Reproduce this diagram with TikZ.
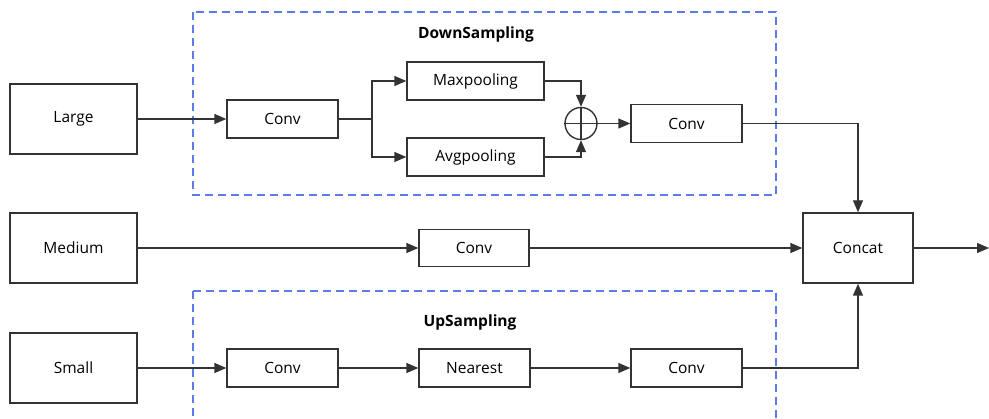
\documentclass[tikz,border=0pt]{standalone}
\usepackage{fontspec}
\setmainfont{Open Sans}
\usetikzlibrary{arrows.meta}
\definecolor{edge}{HTML}{333333}
\definecolor{groupblue}{HTML}{5B7BE8}
\tikzset{
  block/.style={draw=edge, line width=1.4pt, fill=white, minimum width=#1, inner sep=0pt, font=\fontsize{15.5}{18}\selectfont},
  block/.default=110pt,
  wire/.style={draw=edge, line width=1.4pt},
  flow/.style={wire, -{Triangle[length=12pt,width=10pt]}},
  group/.style={draw=groupblue, line width=1.3pt, dash pattern=on 8pt off 5pt},
  grouptitle/.style={font=\fontsize{15.5}{18}\selectfont\bfseries},
}
\begin{document}
\begin{tikzpicture}[x=1pt,y=-1pt]
\useasboundingbox (0,0) rectangle (989,419);

% dashed group frames
\draw[group] (193,12) rectangle (776,195);
\draw[group] (193,291) -- (776,291) -- (776,440);
\draw[group] (193,291) -- (193,440);
\node[grouptitle] (downtitle) at (476,34) {DownSampling};
\node[grouptitle] (uptitle) at (470,322) {UpSampling};

% inputs
\node[block=127pt, minimum height=70pt] (large) at (73.5,119) {Large};
\node[block=127pt, minimum height=70pt] (medium) at (73.5,248) {Medium};
\node[block=127pt, minimum height=70pt] (small) at (73.5,368) {Small};

% down-sampling branch
\node[block=111pt, minimum height=38pt] (dconv) at (282.5,119) {Conv};
\node[block=137pt, minimum height=38pt] (maxp) at (475.5,81) {Maxpooling};
\node[block=137pt, minimum height=38pt] (avgp) at (475.5,157) {Avgpooling};
\node[draw=edge, line width=1.4pt, circle, minimum size=32pt, inner sep=0pt] (sum) at (581,123.5) {};
\draw[wire] (sum.north) -- (sum.south) (sum.west) -- (sum.east);
\node[block=111pt, minimum height=38pt] (dconv2) at (686.5,123.5) {Conv};

% middle branch
\node[block=110pt, minimum height=37pt] (mconv) at (474,248) {Conv};

% up-sampling branch
\node[block=111pt, minimum height=38pt] (uconv) at (282.5,368) {Conv};
\node[block=111pt, minimum height=38pt] (near) at (474.5,368) {Nearest};
\node[block=111pt, minimum height=38pt] (uconv2) at (686.5,368) {Conv};

% fusion
\node[block=110pt, minimum height=70pt] (concat) at (858,248) {Concat};
\coordinate (out) at (989,248);
\coordinate (split) at (372,119);

% connectors
\draw[flow] (large) -- (dconv);
\draw[wire] (dconv.east) -- (split);
\draw[flow] (split) |- (maxp.west);
\draw[flow] (split) |- (avgp.west);
\draw[flow] (maxp.east) -| (sum.north);
\draw[flow] (avgp.east) -| (sum.south);
\draw[flow] (sum.east) -- (dconv2.west);
\draw[flow] (dconv2.east) -| (concat.north);

\draw[flow] (medium) -- (mconv);
\draw[flow] (mconv) -- (concat);

\draw[flow] (small) -- (uconv);
\draw[flow] (uconv) -- (near);
\draw[flow] (near) -- (uconv2);
\draw[flow] (uconv2.east) -| (concat.south);

\draw[flow] (concat.east) -- (out);
\end{tikzpicture}
\end{document}
